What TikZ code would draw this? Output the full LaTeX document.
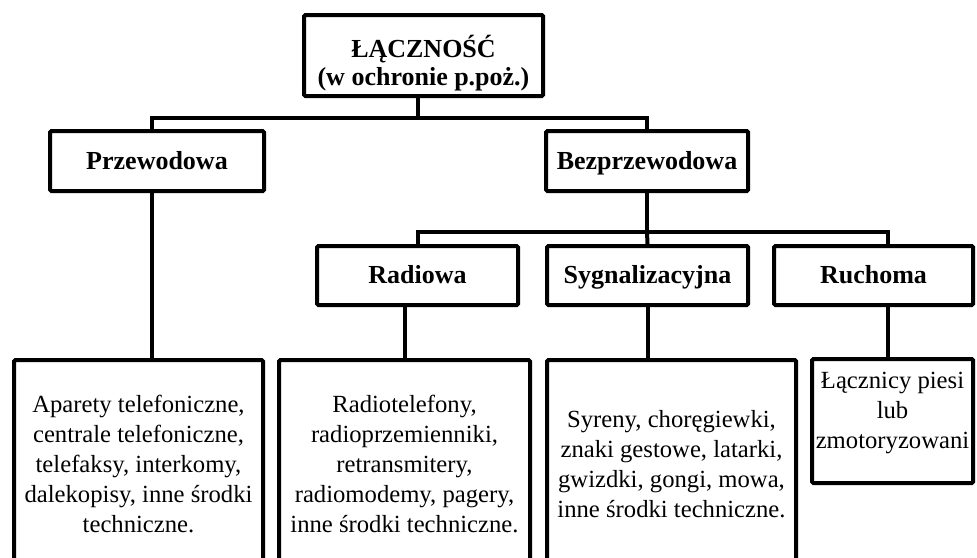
\documentclass[tikz,border=0pt]{standalone}
\usepackage{fontspec}
\setmainfont{Liberation Serif}

\begin{document}
\begin{tikzpicture}[x=0.75pt, y=-0.75pt,
    box/.style={draw, line width=3pt, rounded corners=1pt, align=center, inner sep=0pt},
    head/.style={box, minimum height=45pt, text height=12.5pt, text depth=0pt, font=\bfseries\fontsize{19.5}{22}\selectfont},
    items/.style={box, minimum height=156pt, font=\fontsize{18.5}{22.5}\selectfont},
    link/.style={line width=3pt}]
    \useasboundingbox (0,0) rectangle (977,557);
    \clip (0,0) rectangle (977,557);

    \node[box, minimum width=179.25pt, minimum height=60.75pt, font=\bfseries\fontsize{19.5}{21}\selectfont] (root) at (423.5,55.5) {\rule{0pt}{28pt}ŁĄCZNOŚĆ\\(w ochronie p.poż.)};

    \node[head, minimum width=160.5pt] (wired) at (157,161) {Przewodowa};
    \node[head, minimum width=151.5pt] (wless) at (647,161) {Bezprzewodowa};

    \node[head, minimum width=150.75pt, minimum height=44.25pt] (radio) at (417.5,275.5) {Radiowa};
    \node[head, minimum width=150.75pt, minimum height=44.25pt] (signal) at (647.5,275.5) {Sygnalizacyjna};
    \node[head, minimum width=149.25pt, minimum height=44.25pt] (mobile) at (873.5,275.5) {Ruchoma};

    \node[items, minimum width=186.75pt] (wiredlist) at (138.5,464) {Aparety telefoniczne,\\centrale telefoniczne,\\telefaksy, interkomy,\\dalekopisy, inne środki\\techniczne.};
    \node[items, minimum width=188.25pt] (radiolist) at (404.5,464) {Radiotelefony,\\radioprzemienniki,\\retransmitery,\\radiomodemy, pagery,\\inne środki techniczne.};
    \node[items, minimum width=186.75pt] (signallist) at (671.5,464) {Syreny, choręgiewki,\\znaki gestowe, latarki,\\gwizdki, gongi, mowa,\\inne środki techniczne.};
    \node[items, minimum width=120.75pt, minimum height=93pt] (mobilelist) at (892.5,421) {Łącznicy piesi\\lub\\zmotoryzowani\\[-7pt]};

    % first level
    \coordinate (j1) at (418,118);
    \draw[link] (root.south -| j1) -- (j1);
    \draw[line width=2.4pt] (wired.north -| 152,0) |- (j1) -| (wless.north);

    % second level
    \coordinate (j2) at (647,232);
    \draw[link] (wless.south) -- (j2);
    \draw[link] (radio.north) |- (j2) -| (mobile.north -| 888,0);
    \draw[link] (j2) -- (signal.north);

    % lists
    \draw[link] (wired.south -| 152,0) -- (wiredlist.north -| 152,0);
    \draw[link] (radio.south -| radiolist.north) -- (radiolist.north);
    \draw[link] (signal.south) -- (signal.south |- signallist.north);
    \draw[link] (mobile.south -| 888,0) -- (mobilelist.north -| 888,0);
\end{tikzpicture}
\end{document}
